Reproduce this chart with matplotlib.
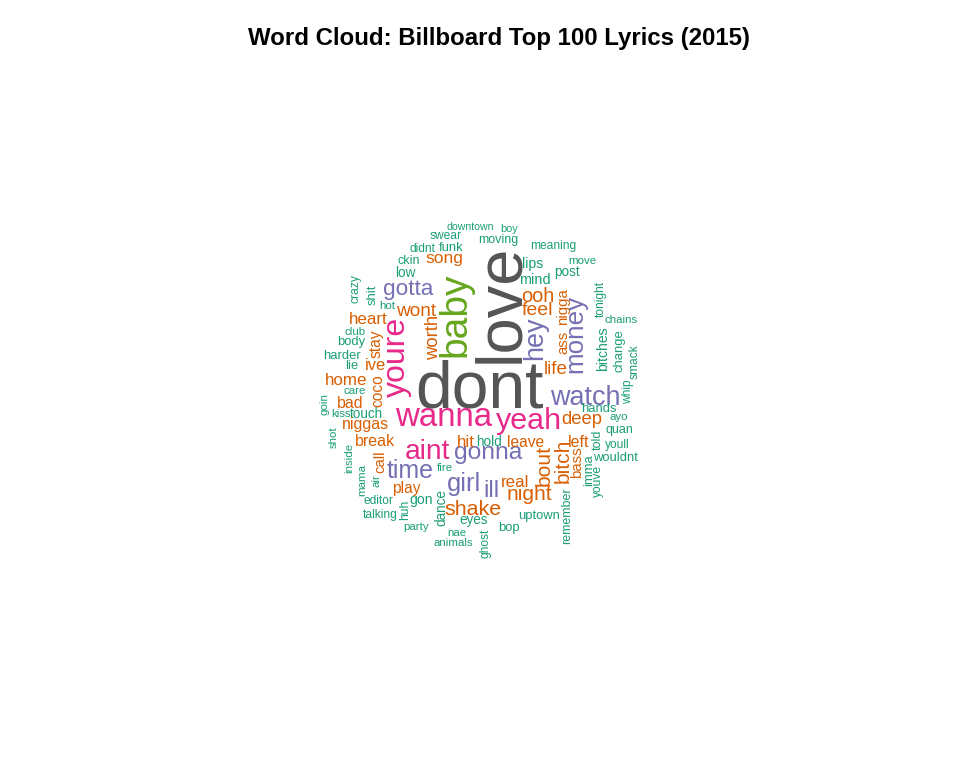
import matplotlib
matplotlib.use("Agg")
import matplotlib.pyplot as plt

plt.rcParams['font.family'] = ['Liberation Sans', 'DejaVu Sans']

# ---- data: word, centre (px), size (px), rotation, colour group ----
words = ["downtown", "boy", "swear", "moving", "didnt", "funk", "meaning", "ckin", "song", "lips",
         "move", "low", "post", "mind", "gotta", "crazy", "shit", "hot", "wont", "heart",
         "ooh", "feel", "nigga", "ass", "money", "hey", "tonight", "chains", "bitches", "change",
         "smack", "whip", "watch", "hands", "deep", "ayo", "quan", "told", "left", "youll",
         "wouldnt", "bass", "imma", "youve", "bitch", "bout", "real", "night", "remember", "uptown",
         "bop", "ghost", "animals", "nae", "eyes", "dance", "party", "talking", "huh", "gon",
         "editor", "play", "air", "mama", "inside", "call", "time", "fire", "girl", "ill",
         "shake", "gonna", "aint", "hit", "hold", "leave", "wanna", "yeah", "dont", "love",
         "baby", "worth", "youre", "life", "club", "body", "stay", "harder", "lie", "ive",
         "home", "coco", "care", "bad", "goin", "kiss", "touch", "niggas", "shot", "break"]
word_x = [470, 509, 446, 498, 422, 451, 553, 409, 444, 533,
          582, 405, 567, 535, 408, 357, 371, 387, 416, 368,
          538, 537, 563, 563, 578, 535, 601, 621, 602, 619,
          633, 628, 585, 599, 582, 619, 619, 597, 579, 617,
          615, 576, 588, 599, 561, 542, 515, 529, 566, 539,
          509, 485, 453, 457, 474, 440, 416, 380, 404, 421,
          378, 406, 375, 362, 348, 379, 410, 445, 464, 491,
          473, 488, 427, 466, 489, 526, 444, 529, 479, 495,
          455, 432, 400, 556, 355, 351, 376, 342, 352, 375,
          346, 378, 355, 350, 325, 341, 366, 365, 333, 375]
word_y = [226, 229, 236, 240, 248, 247, 246, 260, 260, 264,
          261, 272, 272, 279, 289, 289, 295, 305, 310, 318,
          294, 309, 307, 342, 334, 338, 299, 319, 349, 351,
          362, 392, 395, 408, 420, 418, 431, 440, 441, 445,
          457, 462, 470, 481, 461, 466, 481, 494, 516, 516,
          528, 543, 542, 533, 521, 508, 527, 515, 510, 501,
          500, 488, 481, 480, 458, 462, 469, 467, 484, 489,
          507, 455, 449, 441, 441, 441, 418, 421, 384, 303,
          315, 337, 357, 368, 331, 342, 344, 355, 365, 364,
          379, 391, 391, 402, 404, 413, 413, 424, 437, 440]
word_size = [10.5, 11, 12, 12.5, 12, 13, 12, 12.5, 17.5, 14,
             11.5, 13.5, 13.5, 14.5, 22.5, 12, 13, 11.5, 19, 17,
             20, 19.5, 15, 15, 26, 27, 12, 11.5, 14, 13,
             12, 12, 27, 13, 18.5, 11.5, 12.5, 12.5, 16, 12,
             13, 15, 13, 12, 21, 21, 17, 21, 12.5, 13,
             13, 12, 11.5, 11.5, 13.5, 13.5, 11.5, 12, 12, 14,
             12, 15.5, 11.5, 11.5, 11.5, 15, 25, 11.5, 25.5, 24,
             21.5, 24.5, 28, 17, 13.5, 15.5, 33, 30.5, 66, 65,
             39, 18.5, 32, 19, 11.5, 13, 15.5, 13, 13, 16.5,
             17, 15.5, 11.5, 16, 11.5, 11.5, 13.5, 16, 11.5, 16]
word_rot = [0, 0, 0, 0, 0, 0, 0, 0, 0, 0,
            0, 0, 0, 0, 0, 90, 90, 0, 0, 0,
            0, 0, 90, 90, 90, 90, 90, 0, 90, 90,
            90, 90, 0, 0, 0, 0, 0, 90, 0, 0,
            0, 90, 90, 90, 90, 90, 0, 0, 90, 0,
            0, 90, 0, 0, 0, 90, 0, 0, 90, 0,
            0, 0, 90, 90, 90, 90, 0, 0, 0, 0,
            0, 0, 0, 0, 0, 0, 0, 0, 0, 90,
            90, 90, 90, 0, 0, 0, 90, 0, 0, 0,
            0, 90, 0, 0, 90, 0, 0, 0, 90, 0]
word_group = ["T", "T", "T", "T", "T", "T", "T", "T", "O", "T",
              "T", "T", "T", "T", "P", "T", "T", "T", "O", "O",
              "O", "O", "O", "O", "P", "P", "T", "T", "T", "T",
              "T", "T", "P", "T", "O", "T", "T", "T", "O", "T",
              "T", "O", "T", "T", "O", "O", "O", "O", "T", "T",
              "T", "T", "T", "T", "T", "T", "T", "T", "T", "T",
              "T", "O", "T", "T", "T", "O", "P", "T", "P", "P",
              "O", "P", "K", "O", "T", "O", "K", "K", "D", "D",
              "G", "O", "K", "O", "T", "T", "O", "T", "T", "O",
              "O", "O", "T", "O", "T", "T", "T", "O", "T", "O"]

palette = {"T": "#1B9E77", "O": "#D95F02", "P": "#7570B3", "K": "#E7298A",
           "G": "#66A61E", "D": "#555555"}

title = "Word Cloud: Billboard Top 100 Lyrics (2015)"

DPI = 100
fig = plt.figure(figsize=(9.6, 7.68), dpi=DPI)
ax = fig.add_axes([0, 0, 1, 1])
ax.set_xlim(0, 960)
ax.set_ylim(768, 0)
ax.axis("off")

ASC = set("bdfhklti")
DESC = set("gjpqy")


def ink_shift(w, s):
    a = any(c in ASC for c in w)
    d = any(c in DESC for c in w)
    if a and not d:
        return 0.1 * s
    if d and not a:
        return -0.1 * s
    return 0.0


for w, x, y, s, r, g in zip(words, word_x, word_y, word_size, word_rot, word_group):
    sh = ink_shift(w, s)
    if r == 90:
        x = x + sh
    else:
        y = y + sh
    ax.text(x, y, w, fontsize=s * 72 / DPI, rotation=r, ha="center", va="center",
            color=palette[g])

fig.text(499.5 / 960, 1 - 45 / 768, title, ha="center", va="baseline",
         fontsize=17.3, fontweight="bold", color="black")

fig.savefig("out.png", dpi=DPI)
